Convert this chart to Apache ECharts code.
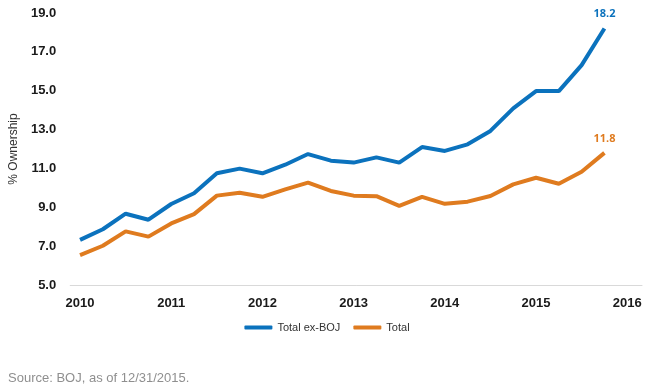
<!DOCTYPE html>
<html lang="en">
<head>
    <meta charset="UTF-8">
    <title>BOJ ownership</title>
    <script src="https://cdn.jsdelivr.net/npm/echarts@6/dist/echarts.min.js"></script>
    <style>
        html, body { margin: 0; padding: 0; background: #fff; }
    </style>
</head>
<body>
<div id="main" style="width: 654px;height: 389px;"></div>
<script type="text/javascript">
    // quarterly, 2010 Q1 .. 2015 Q4
    var quarters = [];
    for (var y = 2010; y <= 2015; y++) {
        for (var q = 0; q < 4; q++) quarters.push(y + q * 0.25);
    }
    var yearTicks = [2010, 2011, 2012, 2013, 2014, 2015, 2016];

    var totalExBoj = [7.32, 7.87, 8.67, 8.36, 9.17, 9.72, 10.75, 10.99, 10.75, 11.19, 11.74, 11.40,
                      11.30, 11.57, 11.30, 12.10, 11.90, 12.24, 12.93, 14.09, 14.98, 14.98, 16.32, 18.2];
    var total = [6.54, 7.02, 7.76, 7.49, 8.17, 8.65, 9.60, 9.75, 9.54, 9.92, 10.27, 9.84,
                 9.60, 9.57, 9.07, 9.54, 9.18, 9.29, 9.58, 10.18, 10.52, 10.21, 10.83, 11.8];

    function pairs(vals, color) {
        return vals.map(function (v, i) {
            var item = { value: [quarters[i], v] };
            if (i === vals.length - 1) {
                item.label = {
                    show: true, position: 'top', distance: 9,
                    formatter: function (p) { return p.value[1].toFixed(1); },
                    color: color, fontWeight: 'bold', fontSize: 11,
                    fontFamily: 'Open Sans'
                };
            }
            return item;
        });
    }

    var myChart = echarts.init(document.getElementById('main'));
    var blue = '#0b72bd', orange = '#df7b1f';

    var option = {
        animation: false,
        backgroundColor: '#fff',
        title: {
            text: 'Source: BOJ, as of 12/31/2015.',
            left: 3, top: 367,
            textStyle: { fontSize: 13, fontWeight: 'normal', color: '#8f8f8f', fontFamily: 'Liberation Sans' }
        },
        legend: {
            bottom: 51, left: 'center',
            itemWidth: 28, itemHeight: 4, itemGap: 13,
            icon: 'roundRect',
            textStyle: { fontSize: 11, color: '#333', fontFamily: 'Liberation Sans Narrow, Liberation Sans' },
            data: ['Total ex-BOJ', 'Total']
        },
        grid: { left: 62, right: 12, top: 13, bottom: 104 },
        xAxis: {
            type: 'value',
            min: 2009.892, max: 2016.162,
            splitLine: { show: false },
            axisTick: { show: false },
            axisLine: { show: true, lineStyle: { color: '#d9d9d9', width: 1 } },
            axisLabel: {
                customValues: yearTicks,
                formatter: function (v) { return String(Math.round(v)); },
                margin: 12,
                fontSize: 13, fontWeight: 'bold', color: '#1a1a1a',
                fontFamily: 'Liberation Sans'
            }
        },
        yAxis: {
            type: 'value',
            min: 5, max: 19, interval: 2,
            name: '% Ownership',
            nameLocation: 'middle', nameGap: 42, nameRotate: 90,
            nameTextStyle: { fontSize: 12, color: '#333', fontFamily: 'Liberation Sans' },
            splitLine: { show: false },
            axisLine: { show: false },
            axisTick: { show: false },
            axisLabel: {
                margin: 14,
                formatter: function (v) { return v.toFixed(1); },
                fontSize: 13, fontWeight: 'bold', color: '#1a1a1a',
                fontFamily: 'Liberation Sans'
            }
        },
        series: [{
            name: 'Total ex-BOJ',
            type: 'line',
            data: pairs(totalExBoj, blue),
            showSymbol: true,
            symbol: 'circle',
            symbolSize: 0,
            color: blue,
            lineStyle: { width: 4, color: blue }
        }, {
            name: 'Total',
            type: 'line',
            data: pairs(total, orange),
            showSymbol: true,
            symbol: 'circle',
            symbolSize: 0,
            color: orange,
            lineStyle: { width: 4, color: orange }
        }]
    };
    myChart.setOption(option);
</script>
</body>
</html>
